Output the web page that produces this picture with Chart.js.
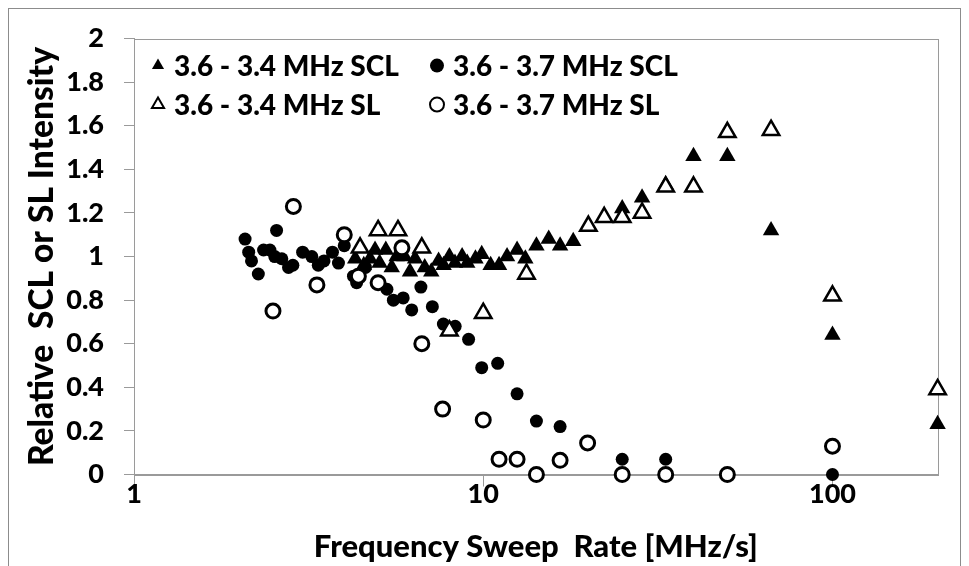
<!DOCTYPE html>
<html>
<head>
<meta charset="utf-8">
<script src="https://cdn.jsdelivr.net/npm/chart.js@4.4.1/dist/chart.umd.min.js"></script>
<style>
    html, body { margin: 0; padding: 0; background: #fff; }
</style>
</head>
<body>
<canvas id="sweep-chart" width="969" height="566"></canvas>
<script>
// 3.6 - 3.4 MHz SCL (filled triangles)
let sclLowX = [4.3, 4.55, 4.74, 4.9, 5.05, 5.26, 5.47, 5.65, 5.95, 6.17, 6.38, 6.8, 7.1, 7.45, 7.7, 8.0, 8.3, 8.7, 9.0,
    9.5, 9.9, 10.5, 11.1, 11.7, 12.5, 13.2, 14.2, 15.4, 16.6, 18.1, 25, 28.5, 33.3, 40, 50, 66.7, 100, 200];
let sclLowY = [0.99, 0.96, 0.99, 1.03, 0.97, 1.03, 0.95, 1.0, 1.0, 0.93, 0.99, 0.95, 0.93, 0.98, 0.96, 1.0, 0.97, 1.0, 0.97,
    0.99, 1.01, 0.96, 0.96, 1.0, 1.03, 0.99, 1.05, 1.08, 1.05, 1.07, 1.22, 1.27, 1.33, 1.46, 1.46, 1.12, 0.64, 0.23];

// 3.6 - 3.7 MHz SCL (filled circles)
let sclHighX = [2.08, 2.13, 2.17, 2.27, 2.35, 2.45, 2.53, 2.56, 2.65, 2.77, 2.85, 3.04, 3.23, 3.37, 3.5, 3.7, 3.85, 4.0,
    4.25, 4.34, 4.6, 5.3, 5.53, 5.9, 6.24, 6.63, 7.15, 7.69, 8.31, 9.08, 9.9, 11.0, 12.5, 14.2, 16.6, 25, 33.3, 100];
let sclHighY = [1.08, 1.02, 0.98, 0.92, 1.03, 1.03, 1.0, 1.12, 0.99, 0.95, 0.96, 1.02, 1.0, 0.96, 0.98, 1.02, 0.97, 1.05,
    0.91, 0.88, 0.95, 0.85, 0.8, 0.81, 0.755, 0.86, 0.77, 0.69, 0.68, 0.62, 0.49, 0.51, 0.37, 0.245, 0.22, 0.07, 0.07, 0];

// 3.6 - 3.4 MHz SL (open triangles)
let slLowX = [4.44, 5.0, 5.7, 6.67, 8.0, 10.0, 13.3, 20, 22.2, 25, 28.5, 33.3, 40, 50, 66.7, 100, 200];
let slLowY = [1.04, 1.12, 1.12, 1.04, 0.66, 0.74, 0.92, 1.14, 1.18, 1.18, 1.2, 1.32, 1.32, 1.57, 1.58, 0.82, 0.39];

// 3.6 - 3.7 MHz SL (open circles)
let slHighX = [2.5, 2.86, 3.34, 4.0, 4.39, 5.0, 5.85, 6.67, 7.65, 10.0, 11.1, 12.5, 14.2, 16.6, 19.9, 25, 33.3, 50, 100];
let slHighY = [0.75, 1.23, 0.87, 1.1, 0.91, 0.88, 1.04, 0.6, 0.3, 0.25, 0.07, 0.07, 0, 0.065, 0.145, 0, 0, 0, 0.13];

let seriesLabels = ['3.6 - 3.4 MHz SCL', '3.6 - 3.7 MHz SCL', '3.6 - 3.4 MHz SL', '3.6 - 3.7 MHz SL'];

// Axis ticks
let xTicks = [1, 10, 100];
let yTicks = [0, 0.2, 0.4, 0.6, 0.8, 1, 1.2, 1.4, 1.6, 1.8, 2];

const FONT = 'Lato, "Open Sans", sans-serif';
const WEIGHT = '900';
const GREY = '#9a9a9a';

function toPoints(xs, ys) {
    return xs.map((x, i) => ({ x: x, y: ys[i] }));
}

// Draws a legend marker (triangle or circle)
function drawMarker(ctx, style, fill, x, y, r) {
    ctx.beginPath();
    if (style === 'triangle') {
        ctx.moveTo(x, y - r);
        ctx.lineTo(x + r * 0.866, y + r * 0.5);
        ctx.lineTo(x - r * 0.866, y + r * 0.5);
        ctx.closePath();
    } else {
        ctx.arc(x, y, r, 0, Math.PI * 2);
    }
    ctx.fillStyle = fill;
    ctx.fill();
    if (fill !== '#000') {
        ctx.lineWidth = 2;
        ctx.strokeStyle = '#000';
        ctx.stroke();
    }
}

// Outer chart frame and plot area box
const framePlugin = {
    id: 'frame',
    beforeDatasetsDraw(chart) {
        const { ctx, chartArea: a } = chart;
        ctx.save();
        ctx.lineWidth = 1;
        ctx.strokeStyle = GREY;
        ctx.strokeRect(Math.round(a.left) + 0.5, Math.round(a.top) + 0.5,
            Math.round(a.right - a.left), Math.round(a.bottom - a.top));
        ctx.strokeStyle = '#8c8c8c';
        ctx.strokeRect(8.5, 8.5, chart.width - 17, chart.height + 20);
        ctx.restore();
    }
};

// Two-column legend inside the plot area, top left
const cornerLegend = {
    id: 'cornerLegend',
    afterDatasetsDraw(chart) {
        const { ctx, chartArea: a } = chart;
        ctx.save();
        ctx.font = WEIGHT + ' 28px ' + FONT;
        ctx.textBaseline = 'middle';
        chart.data.datasets.forEach((ds, i) => {
            let mx = a.left + 24 + (i % 2) * 279;
            let my = a.top + 27 + Math.floor(i / 2) * 39;
            drawMarker(ctx, ds.pointStyle, ds.pointBackgroundColor, mx, my, 7);
            ctx.fillStyle = '#000';
            ctx.fillText(ds.label, mx + 16, my + 1);
        });
        ctx.restore();
    }
};

let sweepChart = new Chart(document.getElementById('sweep-chart'), {
    type: 'scatter',
    data: {
        datasets: [
            {
                label: seriesLabels[0],
                data: toPoints(sclLowX, sclLowY),
                pointStyle: 'triangle',
                pointRadius: 9.5,
                pointBackgroundColor: '#000',
                pointBorderColor: '#000',
                pointBorderWidth: 0,
                order: 3,
                clip: false
            },
            {
                label: seriesLabels[1],
                data: toPoints(sclHighX, sclHighY),
                pointStyle: 'circle',
                pointRadius: 6.5,
                pointBackgroundColor: '#000',
                pointBorderColor: '#000',
                pointBorderWidth: 0,
                order: 2,
                clip: false
            },
            {
                label: seriesLabels[2],
                data: toPoints(slLowX, slLowY),
                pointStyle: 'triangle',
                pointRadius: 9.5,
                pointBackgroundColor: '#fff',
                pointBorderColor: '#000',
                pointBorderWidth: 2.5,
                order: 1,
                clip: false
            },
            {
                label: seriesLabels[3],
                data: toPoints(slHighX, slHighY),
                pointStyle: 'circle',
                pointRadius: 7,
                pointBackgroundColor: '#fff',
                pointBorderColor: '#000',
                pointBorderWidth: 3,
                order: 0,
                clip: false
            }
        ]
    },
    options: {
        responsive: false,
        animation: false,
        layout: { padding: { top: 38.6, right: 31.4, left: 0, bottom: 0 } },
        plugins: {
            legend: { display: false },
            tooltip: { enabled: false }
        },
        scales: {
            x: {
                type: 'logarithmic',
                min: 1,
                max: 200,
                afterBuildTicks: scale => { scale.ticks = xTicks.map(v => ({ value: v })); },
                afterFit: scale => { scale.height = 91.5; },
                border: { color: GREY },
                grid: { drawOnChartArea: false, tickLength: 12, color: GREY },
                ticks: {
                    color: '#000',
                    padding: -8,
                    maxRotation: 0,
                    autoSkip: false,
                    font: { family: FONT, size: 27, weight: WEIGHT },
                    callback: v => String(v)
                },
                title: {
                    display: true,
                    text: 'Frequency Sweep  Rate [MHz/s]',
                    color: '#000',
                    padding: { top: 0, bottom: 0 },
                    font: { family: FONT, size: 31, weight: WEIGHT }
                }
            },
            y: {
                min: 0,
                max: 2,
                afterBuildTicks: scale => { scale.ticks = yTicks.map(v => ({ value: v })); },
                afterFit: scale => { scale.width = 134; },
                border: { color: GREY },
                grid: { drawOnChartArea: false, tickLength: 10, color: GREY },
                ticks: {
                    color: '#000',
                    padding: 20,
                    font: { family: FONT, size: 27, weight: WEIGHT },
                    callback: v => String(+v.toFixed(1))
                },
                title: {
                    display: true,
                    text: 'Relative  SCL or SL Intensity',
                    color: '#000',
                    padding: { top: 22, bottom: 0 },
                    font: { family: FONT, size: 33.5, weight: WEIGHT }
                }
            }
        }
    },
    plugins: [framePlugin, cornerLegend]
});
</script>
</body>
</html>
